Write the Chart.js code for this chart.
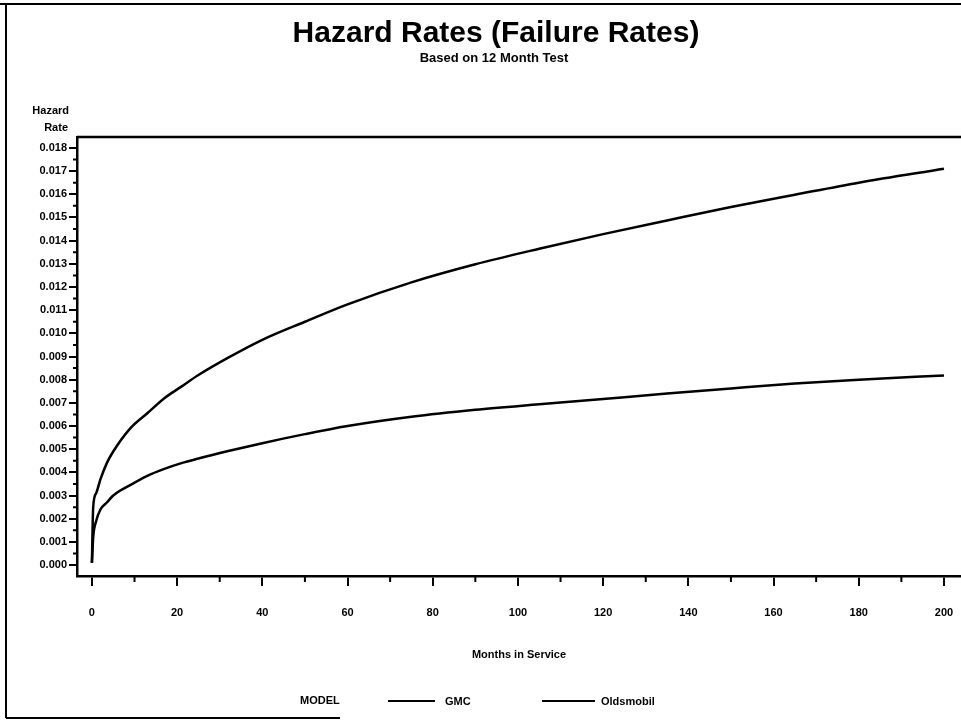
<!DOCTYPE html>
<html>
<head>
<meta charset="utf-8">
<script src="https://cdn.jsdelivr.net/npm/chart.js@4"></script>
<style>
  body { margin: 0; background: #fff; }
  canvas { display: block; }
</style>
</head>
<body>
<canvas id="hazardChart" width="961" height="721"></canvas>
<script>
const months = [0, 0.3, 1, 2, 3.5, 5, 9, 13, 17, 21, 25, 32, 40, 50, 60, 75, 90, 105, 120, 135, 150, 165, 180, 200];
const gmcRates = [0.0001, 0.0025, 0.0031, 0.0037, 0.0044, 0.0049, 0.0059, 0.00655, 0.0072, 0.0077, 0.0082, 0.00895, 0.00972, 0.0105, 0.01125, 0.0122, 0.01298, 0.01365, 0.01428, 0.01487, 0.01545, 0.01598, 0.0165, 0.0171];
const oldsRates = [0.0001, 0.0012, 0.0019, 0.0024, 0.0027, 0.0030, 0.00345, 0.00385, 0.00415, 0.0044, 0.0046, 0.00492, 0.00526, 0.00565, 0.006, 0.0064, 0.0067, 0.00694, 0.00717, 0.0074, 0.00762, 0.00783, 0.008, 0.00818];
const xTicks = [0, 20, 40, 60, 80, 100, 120, 140, 160, 180, 200];
const yTicks = [0, 0.001, 0.002, 0.003, 0.004, 0.005, 0.006, 0.007, 0.008, 0.009, 0.010, 0.011, 0.012, 0.013, 0.014, 0.015, 0.016, 0.017, 0.018];

const FONT = '"Liberation Sans", Arial, sans-serif';

function toPoints(ys) {
    return months.map((m, i) => ({ x: m, y: ys[i] }));
}

// titles, axis labels, frame, minor ticks and legend
const sasDecor = {
    id: "sasDecor",
    afterDraw(chart) {
        const c = chart.ctx;
        const area = chart.chartArea;
        const xs = chart.scales.x;
        const ys = chart.scales.y;
        c.save();
        c.fillStyle = "#000";
        c.strokeStyle = "#000";

        // page frame (scan edges)
        c.lineWidth = 2;
        c.beginPath();
        c.moveTo(6, 3); c.lineTo(6, 718);
        c.moveTo(0, 4); c.lineTo(961, 4);
        c.moveTo(6, 718); c.lineTo(340, 718);
        c.stroke();

        // top frame of plot area
        c.lineWidth = 2.5;
        c.beginPath();
        c.moveTo(area.left, area.top);
        c.lineTo(area.right, area.top);
        c.stroke();

        // minor ticks
        c.lineWidth = 2;
        c.beginPath();
        for (let v = 10; v < 200; v += 20) {
            const px = xs.getPixelForValue(v);
            c.moveTo(px, area.bottom);
            c.lineTo(px, area.bottom + 6);
        }
        for (let v = 0.0005; v < 0.0185; v += 0.001) {
            const py = ys.getPixelForValue(v);
            c.moveTo(area.left, py);
            c.lineTo(area.left - 4, py);
        }
        c.stroke();

        c.textAlign = "center";
        c.textBaseline = "middle";
        c.font = "bold 30px " + FONT;
        c.fillText("Hazard Rates (Failure Rates)", 496, 34);
        c.font = "bold 13px " + FONT;
        c.fillText("Based on 12 Month Test", 494, 58);

        c.font = "bold 11px " + FONT;
        c.fillText("Months in Service", (area.left + area.right) / 2, 655);

        c.textAlign = "right";
        c.fillText("Hazard", 69, 111);
        c.fillText("Rate", 68, 128);

        // legend
        c.textAlign = "left";
        c.fillText("MODEL", 300, 701);
        const entries = [[388, 435, 445], [542, 595, 601]];
        chart.data.datasets.forEach((ds, i) => {
            const [x0, x1, tx] = entries[i];
            c.strokeStyle = ds.borderColor;
            c.lineWidth = 2;
            c.beginPath();
            c.moveTo(x0, 701);
            c.lineTo(x1, 701);
            c.stroke();
            c.fillText(ds.label, tx, 702);
        });
        c.restore();
    }
};

const ctx = document.getElementById("hazardChart").getContext("2d");
new Chart(ctx, {
    type: "line",
    data: {
        datasets: [{
            label: "GMC",
            data: toPoints(gmcRates),
            borderColor: "#000",
            borderWidth: 2.5,
            pointRadius: 0,
            cubicInterpolationMode: "monotone",
        }, {
            label: "Oldsmobil",
            data: toPoints(oldsRates),
            borderColor: "#000",
            borderWidth: 2.5,
            pointRadius: 0,
            cubicInterpolationMode: "monotone",
        }],
    },
    options: {
        responsive: false,
        animation: false,
        events: [],
        layout: { padding: { top: 137, right: 0, left: 0, bottom: 0 } },
        plugins: {
            legend: { display: false },
            title: { display: false },
            tooltip: { enabled: false },
        },
        scales: {
            x: {
                type: "linear",
                min: -3.5,
                max: 204,
                afterBuildTicks: (axis) => { axis.ticks = xTicks.map(v => ({ value: v })); },
                afterFit: (axis) => { axis.height = 145; axis.paddingRight = 0; axis.paddingLeft = 0; },
                grid: { display: true, drawOnChartArea: false, drawTicks: true, tickLength: 10, color: "#000", lineWidth: 2 },
                border: { display: true, color: "#000", width: 2.5 },
                ticks: {
                    color: "#000",
                    font: { family: FONT, size: 11, weight: "bold" },
                    padding: 20,
                    maxRotation: 0,
                },
            },
            y: {
                type: "linear",
                min: -0.00047,
                max: 0.01847,
                afterBuildTicks: (axis) => { axis.ticks = yTicks.map(v => ({ value: v })); },
                afterFit: (axis) => { axis.width = 77; axis.paddingTop = 0; axis.paddingBottom = 0; },
                grid: { display: true, drawOnChartArea: false, drawTicks: true, tickLength: 8, color: "#000", lineWidth: 2 },
                border: { display: true, color: "#000", width: 2.5 },
                ticks: {
                    color: "#000",
                    font: { family: FONT, size: 11, weight: "bold" },
                    padding: 2,
                    callback: (v) => v.toFixed(3),
                },
            },
        },
    },
    plugins: [sasDecor],
});
</script>
</body>
</html>
